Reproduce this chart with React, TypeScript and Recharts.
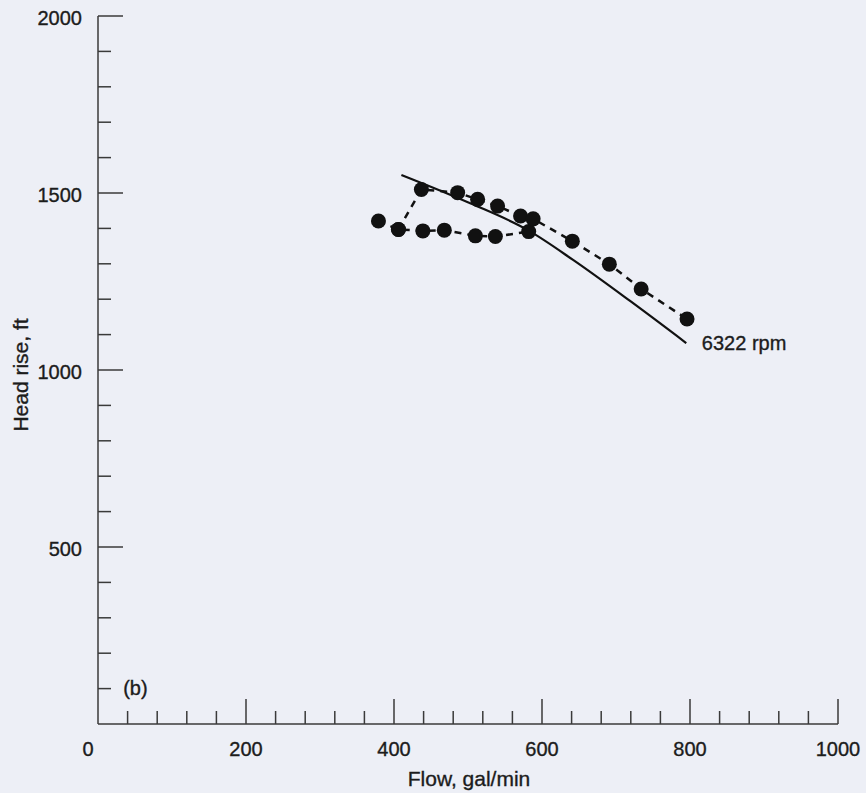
import { ComposedChart, Line, XAxis, YAxis, ReferenceDot, Label } from 'recharts';

// flow in gal/min, head rise in ft
const upperFlow = [406, 437, 486, 513, 540, 571, 588, 641, 691, 734, 796];
const upperHead = [1397, 1510, 1501, 1482, 1463, 1435, 1427, 1364, 1299, 1229, 1144];

const lowerFlow = [379, 406, 439, 468, 510, 537, 582];
const lowerHead = [1421, 1397, 1393, 1395, 1379, 1377, 1391];

// solid curve, 6322 rpm
const curveFlow = [410, 503, 581, 642, 719, 795];
const curveHead = [1551, 1471, 1395, 1311, 1195, 1076];

const xTicks = Array.from({ length: 26 }, (_, i) => i * 40);
const yTicks = Array.from({ length: 21 }, (_, i) => i * 100);

const upper = upperFlow.map((f, i) => ({ flow: f, head: upperHead[i] }));
const lower = lowerFlow.map((f, i) => ({ flow: f, head: lowerHead[i] }));
const curve = curveFlow.map((f, i) => ({ flow: f, head: curveHead[i] }));

const font = '"Liberation Sans", Arial, sans-serif';
const ink = '#1c1c1c';
const axisColor = '#3a3a3a';
const textStroke = { stroke: ink, strokeWidth: 0.35 };

function XTick(props: any) {
  const { x, y, payload } = props;
  const v = payload.value;
  const major = v % 200 === 0;
  return (
    <g>
      {v !== 0 && (
        <line x1={x} x2={x} y1={y} y2={y - (major ? 25 : 13)} stroke={axisColor} strokeWidth={1.5} />
      )}
      {major && (
        <text x={v === 0 ? x - 10 : x} y={y + 32} textAnchor="middle" fontSize={20} fill={ink} fontFamily={font} {...textStroke}>
          {v}
        </text>
      )}
    </g>
  );
}

function YTick(props: any) {
  const { x, y, payload } = props;
  const v = payload.value;
  if (v === 0) return <g />;
  const major = v % 500 === 0;
  return (
    <g>
      <line x1={x} x2={x + (major ? 25 : 13)} y1={y} y2={y} stroke={axisColor} strokeWidth={1.5} />
      {major && (
        <text x={x - 16} y={y + 9} textAnchor="end" fontSize={20} fill={ink} fontFamily={font} {...textStroke}>
          {v}
        </text>
      )}
    </g>
  );
}

export default function App() {
  return (
    <div style={{ position: 'absolute', left: 0, top: 0, width: 866, height: 793, background: '#edeff6' }}>
      <ComposedChart width={866} height={793} margin={{ top: 16, right: 28, bottom: 0, left: 0 }}>
        <XAxis
          type="number"
          dataKey="flow"
          domain={[0, 1000]}
          ticks={xTicks}
          interval={0}
          height={69}
          tickSize={0}
          tickMargin={0}
          tickLine={false}
          stroke={axisColor}
          strokeWidth={1.5}
          tick={<XTick />}
        >
          <Label
            content={() => (
              <text x={469} y={786} textAnchor="middle" fontSize={21} fill={ink} fontFamily={font} {...textStroke}>
                Flow, gal/min
              </text>
            )}
          />
        </XAxis>
        <YAxis
          type="number"
          dataKey="head"
          domain={[0, 2000]}
          ticks={yTicks}
          interval={0}
          width={98}
          tickSize={0}
          tickMargin={0}
          tickLine={false}
          stroke={axisColor}
          strokeWidth={1.5}
          tick={<YTick />}
        >
          <Label
            content={() => (
              <text
                x={28}
                y={375}
                textAnchor="middle"
                fontSize={21}
                fill={ink}
                fontFamily={font}
                {...textStroke}
                transform="rotate(-90 28 375)"
              >
                Head rise, ft
              </text>
            )}
          />
        </YAxis>
        <Line
          data={curve}
          dataKey="head"
          type="monotone"
          stroke="#111"
          strokeWidth={2.2}
          dot={false}
          isAnimationActive={false}
        />
        <Line
          data={lower}
          dataKey="head"
          type="linear"
          stroke="#111"
          strokeWidth={2.5}
          strokeDasharray="7 6"
          dot={{ r: 7.5, fill: '#111', stroke: '#111', strokeWidth: 0 }}
          isAnimationActive={false}
        />
        <Line
          data={upper}
          dataKey="head"
          type="linear"
          stroke="#111"
          strokeWidth={2.5}
          strokeDasharray="7 6"
          dot={{ r: 7.5, fill: '#111', stroke: '#111', strokeWidth: 0 }}
          isAnimationActive={false}
        />
        <ReferenceDot
          x={816}
          y={1076}
          r={0}
          stroke="none"
          label={{ value: '6322 rpm', position: 'right', offset: 0, fontSize: 20, fill: ink, fontFamily: font, stroke: ink, strokeWidth: 0.35 }}
        />
        <ReferenceDot
          x={34}
          y={102}
          r={0}
          stroke="none"
          label={{ value: '(b)', position: 'right', offset: 0, fontSize: 20, fill: ink, fontFamily: font, stroke: ink, strokeWidth: 0.35 }}
        />
      </ComposedChart>
    </div>
  );
}
